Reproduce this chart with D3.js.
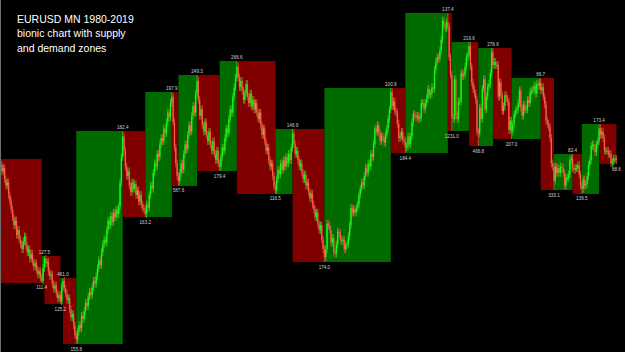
<!DOCTYPE html>
<html><head><meta charset="utf-8">
<script src="https://cdn.jsdelivr.net/npm/d3@7/dist/d3.min.js"></script>
<style>html,body{margin:0;padding:0;background:#000;overflow:hidden}svg{display:block}</style>
</head><body>
<svg id="c" width="625" height="352"></svg>
<script>
// Monthly closes, month index 0 = Jan 1980; first candle is month 5
const firstMonth = 5;
const closes1980s = [1.125,1.105,1.115,1.080,1.060,1.070,1.030,1.010,0.985,0.960,0.935,0.950,0.905,0.920,0.890,0.875,0.860,0.885,0.900,0.870,0.850,0.860,0.830,0.845,0.820,0.805,0.815,0.795,0.780,0.790,0.770,0.760,
 0.800,0.830,
 0.815,0.820,0.790,0.775,0.780,0.750,0.735,0.745,0.720,0.705,0.715,0.695,
 0.740,0.760,
 0.735,0.720,0.700,0.705,0.670,0.645,0.655,0.620,0.590,0.575,
 0.600,0.620,0.610,0.650,0.640,0.665,0.690,0.680,0.710,0.725,0.715,0.740,0.760,0.750,0.775,0.800,0.825,0.810,0.850,0.875,0.890,0.880,0.920,0.950,0.935,0.965,0.945,0.975,0.960,0.985,0.970,0.995,1.070,1.150,1.215,
 1.170,1.120,1.090,1.105,1.060,1.040,1.070,1.050,1.065,1.030,1.045,1.010,1.030,1.000,0.990,0.985,0.970,
 1.000,0.990,1.030,1.060,1.050];
const closes1990s = [1.100,1.130,1.120,1.160,1.150,1.190,1.210,1.200,1.240,1.225,1.260,1.290,1.275,1.320,1.340,
 1.260,1.180,1.130,1.090,1.075,
 1.100,1.130,1.110,1.160,1.190,1.175,1.220,1.250,1.230,1.280,1.310,1.290,1.350,1.390,
 1.330,1.280,1.300,1.250,1.230,1.260,1.220,1.200,1.230,1.190,1.170,1.200,1.160,1.140,1.170,1.130,1.120,
 1.150,1.180,1.170,1.210,1.240,1.225,1.270,1.300,1.290,1.340,1.370,1.400,1.435,
 1.400,1.370,1.390,1.360,1.330,1.350,1.380,1.340,1.320,1.350,1.310,1.330,1.300,1.320,1.290,1.270,1.290,1.250,1.220,1.240,1.200,1.170,1.180,1.140,1.120,1.130,1.090,1.060,1.045,
 1.080,1.110,1.095,1.130,1.110,1.140,1.120,1.150,1.130,1.160,1.140,1.180,1.225,
 1.190,1.160,1.170,1.140,1.120,1.130,1.100,1.080,1.095,1.060,1.070,1.040,1.020,1.035];
const closes2000s = [1.000,0.985,0.960,0.975,0.940,0.920,0.935,0.890,0.860,0.835,
 0.860,0.940,0.935,0.920,0.880,0.895,0.850,0.845,0.875,0.915,0.910,0.890,0.885,0.890,0.860,0.870,0.875,0.900,0.935,0.990,
 0.975,0.985,0.975,0.990,1.000,1.030,1.050,1.070,1.060,1.090,1.115,1.100,1.130,1.120,1.160,1.150,1.190,1.240,1.230,1.250,1.225,1.200,1.215,1.210,1.195,1.220,1.240,1.270,1.300,1.355,
 1.310,1.325,1.295,1.290,1.255,1.210,1.215,1.230,1.205,1.200,1.180,
 1.185,1.215,1.190,1.215,1.260,1.285,1.280,1.275,1.280,1.270,1.275,1.320,1.320,1.300,1.320,1.335,1.365,1.345,1.350,1.370,1.365,1.425,1.450,1.465,1.460,1.485,1.520,1.580,1.560,1.555,1.575,1.560,
 1.465,1.410,1.275,
 1.270,1.395,1.280,1.270,1.325,1.325,1.415,1.405,1.410,1.435,1.465,1.470,1.500,
 1.435];
const closes2010s = [1.385,1.365,1.350,1.330,1.230,1.225,
 1.305,1.270,1.365,1.395,1.300,1.340,1.370,1.380,1.415,1.480,1.440,
 1.450,1.440,1.440,1.340,1.385,1.345,1.295,1.310,1.345,1.335,1.325,1.235,1.265,1.230,
 1.255,1.285,1.295,1.300,1.320,1.360,1.305,1.280,1.315,1.300,1.300,1.330,1.320,1.355,1.360,1.360,1.375,1.350,1.380,1.375,1.385,1.360,
 1.370,1.340,1.315,1.265,1.255,1.245,1.210,1.130,1.120,1.075,
 1.120,1.100,1.115,1.100,1.120,1.115,1.100,1.060,1.085,1.085,1.095,1.140,1.145,1.115,
 1.110,1.115,1.115,1.125,1.095,1.060,1.050,
 1.080,1.060,1.065,1.090,1.125,1.140,1.185,1.190,1.180,1.165,1.190,1.200,1.240,
 1.220,1.230,1.210,1.170,1.170,1.170,1.160,1.160,1.130,1.135,1.145,1.145,1.140];

// Swing points (zone corners) and their labels
const swingMonths = [5,36,38,50,52,62,97,114,134,139,153,170,183,212,225,249,299,310,342,345,358,365,376,390,412,422,436,443,456,469];
const swingPrices = [1.1438,0.7532,0.8382,0.6870,0.7689,0.5610,1.2320,0.9611,1.3549,1.0588,1.4085,1.1060,1.4526,1.0336,1.2383,0.8193,1.3675,1.1627,1.6038,1.2320,1.5124,1.1848,1.4935,1.2068,1.3990,1.0461,1.1596,1.0336,1.2541,1.1281];
const swingLabels = ["","111.4","127.5","125.2","461.0","155.8","182.4","163.2","197.9","587.6","249.3","179.4","266.6","116.5","146.9","174.0","100.9","184.4","137.4","1231.0","216.6","466.8","278.6","207.0","66.7","333.1","82.4","139.5","173.4","88.6"];

const titleLines = ["EURUSD MN 1980-2019","bionic chart with supply","and demand zones"];

const W = 625, H = 352;
const svg = d3.select("#c");
const x = d3.scaleLinear().domain([0, 470]).range([-6, -6 + 470 * 1.327]);
const y = d3.scaleLinear().domain([0.5358, 1.6448]).range([H, 0]);

const closes = closes1980s.concat(closes1990s, closes2000s, closes2010s);
const swingMap = new Map(swingMonths.map((m, i) => [m, i]));
const WICK = 0.012;
const candles = closes.map((c, i) => {
  const m = firstMonth + i;
  const o = i === 0 ? 1.135 : closes[i - 1];
  let hi = Math.max(o, c) + WICK, lo = Math.min(o, c) - WICK;
  if (swingMap.has(m)) {
    const k = swingMap.get(m), p = swingPrices[k];
    const isHigh = k === 0 ? true : p > swingPrices[k - 1];
    if (isHigh) hi = p; else lo = p;
  }
  return {m, o, c, hi, lo};
});

// zones
const zones = d3.pairs(swingMonths.map((m, i) => ({m, p: swingPrices[i]})));
svg.append("g").selectAll("rect").data(zones).join("rect")
  .attr("x", d => x(d[0].m))
  .attr("width", d => x(d[1].m) - x(d[0].m))
  .attr("y", d => y(Math.max(d[0].p, d[1].p)))
  .attr("height", d => Math.abs(y(d[0].p) - y(d[1].p)))
  .attr("fill", d => d[1].p < d[0].p ? "#800000" : "#006c00");

// candles
const cg = svg.append("g");
cg.selectAll("line").data(candles).join("line")
  .attr("x1", d => x(d.m)).attr("x2", d => x(d.m))
  .attr("y1", d => y(d.hi)).attr("y2", d => y(d.lo))
  .attr("stroke", d => d.c >= d.o ? "#40c020" : "#c0583a")
  .attr("stroke-width", 0.9);
cg.selectAll("rect").data(candles).join("rect")
  .attr("x", d => x(d.m) - 0.65).attr("width", 1.3)
  .attr("y", d => y(Math.max(d.o, d.c)))
  .attr("height", d => Math.max(1, Math.abs(y(d.o) - y(d.c))))
  .attr("fill", d => d.c >= d.o ? "#10ff10" : "#ff5a46");

// swing labels
const lab = swingMonths.map((m, i) => {
  const p = swingPrices[i];
  const nb = i > 0 ? swingPrices[i - 1] : swingPrices[i + 1];
  return {m, p, t: swingLabels[i], high: p > nb};
}).filter(d => d.t);
svg.append("g").selectAll("text").data(lab).join("text")
  .attr("x", d => x(d.m))
  .attr("y", d => d.high ? y(d.p) - 2 : y(d.p) + 6.5)
  .attr("text-anchor", "middle")
  .attr("font-family", "Liberation Sans, Arial, sans-serif")
  .attr("font-size", 4.6)
  .attr("fill", "#d0d0d0")
  .text(d => d.t);

// left border
svg.append("line").attr("x1", 0.5).attr("x2", 0.5).attr("y1", 0).attr("y2", H)
  .attr("stroke", "#707070").attr("stroke-width", 1);

// title
svg.append("g").selectAll("text").data(titleLines).join("text")
  .attr("x", 17).attr("y", (d, i) => 22.5 + i * 14.6)
  .attr("font-family", "Liberation Sans, Arial, sans-serif")
  .attr("font-size", 10.5)
  .attr("fill", "#ffffff")
  .text(d => d);
</script>
</body></html>
